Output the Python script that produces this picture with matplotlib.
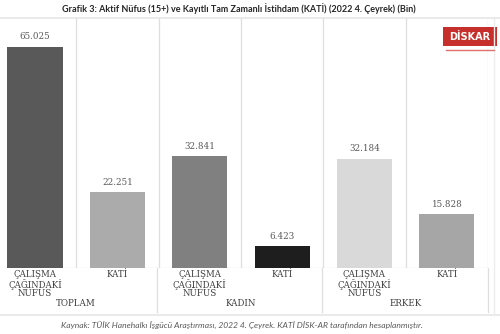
import matplotlib.pyplot as plt
from matplotlib.patches import Rectangle
from matplotlib.lines import Line2D

# values in thousands (bin)
categories = ["ÇALIŞMA\nÇAĞINDAKİ\nNÜFUS", "KATİ",
              "ÇALIŞMA\nÇAĞINDAKİ\nNÜFUS", "KATİ",
              "ÇALIŞMA\nÇAĞINDAKİ\nNÜFUS", "KATİ"]
groups = ["TOPLAM", "KADIN", "ERKEK"]
values = [65.025, 22.251, 32.841, 6.423, 32.184, 15.828]
colors = ["#595959", "#ababab", "#808080", "#1e1e1e", "#d9d9d9", "#a6a6a6"]

title = "Grafik 3: Aktif Nüfus (15+) ve Kayıtlı Tam Zamanlı İstihdam (KATİ) (2022 4. Çeyrek) (Bin)"
source = "Kaynak: TÜİK Hanehalkı İşgücü Araştırması, 2022 4. Çeyrek. KATİ DİSK-AR tarafından hesaplanmıştır."

W, H = 500, 334
fig = plt.figure(figsize=(W / 100, H / 100), dpi=100)

def fx(px):
    return px / W

def fy(py):
    return 1 - py / H

grid_c = "#dedede"
text_c = "#404040"

ax = fig.add_axes([fx(0), fy(268), fx(488), fy(18) - fy(268)])
x = list(range(len(values)))
ax.bar(x, values, width=0.67, color=colors, zorder=3)
ax.set_xlim(-0.425, 5.5)
ax.set_ylim(0, 73.53)
for s in ax.spines.values():
    s.set_visible(False)
ax.set_xticks([])
ax.set_yticks([])
for i in range(6):
    ax.axvline(i + 0.5, color=grid_c, lw=0.9, zorder=1)
ax.axhline(0, color=grid_c, lw=0.9, zorder=2)

for xi, v in zip(x, values):
    ax.annotate(f"{v:.3f}", (xi, v), xytext=(0, 4), textcoords="offset points",
                ha="center", va="bottom", fontsize=6.3, color="#595959",
                family="DejaVu Serif")

# category labels under the axis
for xi, lab in zip(x, categories):
    ax.annotate(lab, (xi, 0), xytext=(0, -1.5), textcoords="offset points",
                ha="center", va="top", fontsize=6.2, color=text_c,
                family="DejaVu Serif", linespacing=0.95, annotation_clip=False)

for gi, g in enumerate(groups):
    xc = 2 * gi + 0.5
    xd = ax.transData.transform((xc, 0))[0] / W
    fig.text(xd, fy(304), g, ha="center", va="center", fontsize=6.3,
             color=text_c, family="DejaVu Serif")

# group separators below the axis
for px in [157, 322, 488]:
    fig.add_artist(Line2D([fx(px), fx(px)], [fy(268), fy(312)], color=grid_c, lw=0.9))

# frame lines
fig.add_artist(Line2D([0, 1], [fy(18), fy(18)], color="#e6e6e6", lw=1.2))
fig.add_artist(Line2D([0, 1], [fy(315), fy(315)], color="#e6e6e6", lw=1.2))
fig.add_artist(Line2D([fx(494), fx(494)], [fy(18), fy(315)], color="#ededed", lw=1))

fig.text(fx(239), fy(9), title, ha="center", va="center", fontsize=6.5,
         fontweight="bold", family="Lato", color="#262626")
fig.text(fx(242), fy(326), source, ha="center", va="center", fontsize=6.1,
         style="italic", family="Lato", color="#595959")

# DİSK-AR logo
fig.add_artist(Rectangle((fx(443), fy(46)), fx(54), fy(27) - fy(46),
                         facecolor="#c62f2b", edgecolor="none"))
fig.text(fx(470), fy(36.5), "DİSKAR", ha="center", va="center", fontsize=7,
         fontweight="bold", color="white", family="DejaVu Sans")
fig.add_artist(Line2D([fx(446), fx(494)], [fy(49.5), fy(49.5)], color="#e07070", lw=1))

fig.savefig("out.png", dpi=100)
